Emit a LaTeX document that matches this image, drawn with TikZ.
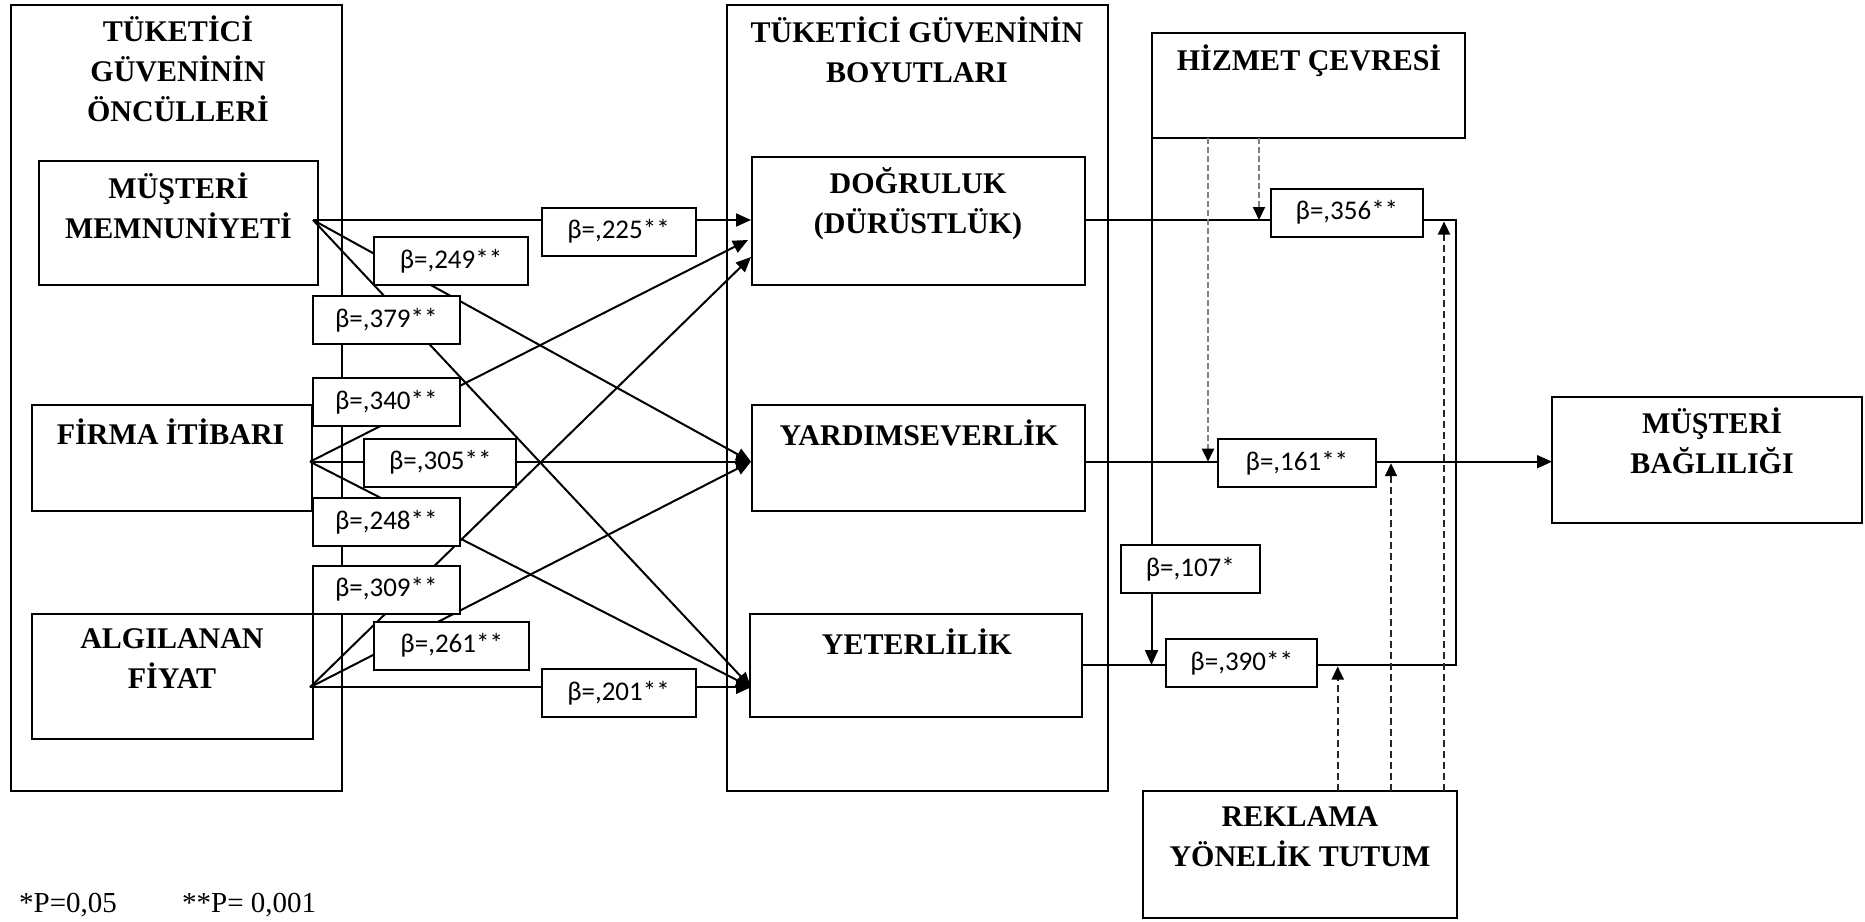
\documentclass[tikz,border=0pt]{standalone}
\usepackage{fontspec}
\setmainfont{Liberation Serif}
\newfontfamily\calib{Carlito}
\usetikzlibrary{arrows.meta,calc}
\begin{document}
\begin{tikzpicture}[x=1pt,y=-1pt,
  frame/.style={draw, line width=2pt, inner sep=0pt, outer sep=0pt},
  beta/.style={draw, fill=white, line width=2pt, inner sep=0pt, outer sep=0pt,
    minimum height=48pt, font=\calib\fontsize{27}{32}\selectfont},
  hd/.style={inner sep=0pt, align=center, font=\bfseries\fontsize{30}{40}\selectfont},
  foot/.style={inner sep=0pt, anchor=west, font=\fontsize{29}{34}\selectfont},
  conn/.style={line width=2pt},
  arr/.style={conn, -{Triangle[length=15pt,width=13pt]}},
  hdash/.style={line width=2pt, draw=black!50, dash pattern=on 6pt off 3pt,
    -{Triangle[length=13pt,width=12pt,color=black]}},
  rdash/.style={line width=2pt, draw=black!85, dash pattern=on 7pt off 4pt,
    -{Triangle[length=13pt,width=12pt,color=black]}},
]
\useasboundingbox (0,0) rectangle (1865,921);

% group frames
\node[frame, minimum width=331pt, minimum height=786pt] (lo) at (176.5,398) {};
\node[frame, minimum width=381pt, minimum height=786pt] (mo) at (917.5,398) {};
\node[hd] (loT) at (178,69) {TÜKETİCİ\\GÜVENİNİN\\ÖNCÜLLERİ};
\node[hd] (moT) at (917,49.5) {TÜKETİCİ GÜVENİNİN\\BOYUTLARI};

% antecedents
\node[frame, minimum width=278.5pt, minimum height=124.3pt] (mm) at (178.25,223.15) {};
\node[frame, minimum width=280.2pt, minimum height=106pt] (fi) at (171.6,458) {};
\node[frame, minimum width=281.5pt, minimum height=125pt] (af) at (172.25,676.8) {};
\node[hd] at (178.5,205.5) {MÜŞTERİ\\MEMNUNİYETİ};
\node[hd] at (170.6,431.7) {FİRMA İTİBARI};
\node[hd] at (172,658.2) {ALGILANAN\\FİYAT};

% trust dimensions
\node[frame, minimum width=333pt, minimum height=128.6pt] (dog) at (918.5,221) {};
\node[frame, minimum width=333pt, minimum height=106pt] (yar) at (918.5,458) {};
\node[frame, minimum width=332pt, minimum height=102.4pt] (yet) at (916,665.5) {};
\node[hd] at (918,203.3) {DOĞRULUK\\(DÜRÜSTLÜK)};
\node[hd] at (919,433) {YARDIMSEVERLİK};
\node[hd] at (917,642) {YETERLİLİK};

% moderators and outcome
\node[frame, minimum width=313.8pt, minimum height=104.7pt] (hiz) at (1308.4,85.65) {};
\node[frame, minimum width=310pt, minimum height=126pt] (mb) at (1707,460) {};
\node[frame, minimum width=314pt, minimum height=127.3pt] (rek) at (1300.3,854.65) {};
\node[hd] at (1309,61) {HİZMET ÇEVRESİ};
\node[hd] at (1712,441.2) {MÜŞTERİ\\BAĞLILIĞI};
\node[hd] at (1300,836.3) {REKLAMA\\YÖNELİK TUTUM};

% path end points
\coordinate (mmS) at (313,220);
\coordinate (fiS) at (310,461.7);
\coordinate (afS) at (310,687.3);
\coordinate (dA) at (751,220);
\coordinate (dB) at (748,240);
\coordinate (dC) at (751,257);
\coordinate (yA) at (751,461.7);
\coordinate (eA) at (751,687.3);

\draw[arr] (mmS) -- (dA);
\draw[arr] (mmS) -- (yA);
\draw[arr] (mmS) -- (eA);
\draw[arr] (fiS) -- (dB);
\draw[arr] (fiS) -- (yA);
\draw[arr] (fiS) -- (eA);
\draw[arr] (afS) -- (dC);
\draw[arr] (afS) -- (yA);
\draw[arr] (afS) -- (eA);

% path coefficients, left part
\node[beta, minimum width=154pt] (b225) at (618.5,231.7) {β=,225**};
\node[beta, minimum width=154pt] (b249) at (451,261.3) {β=,249**};
\node[beta, minimum width=146.5pt] (b379) at (386.3,320) {β=,379**};
\node[beta, minimum width=146.5pt] (b340) at (386.3,402) {β=,340**};
\node[beta, minimum width=151.7pt] (b305) at (440.3,462.7) {β=,305**};
\node[beta, minimum width=146.5pt] (b248) at (386.3,522) {β=,248**};
\node[beta, minimum width=146.5pt] (b309) at (386.3,589.7) {β=,309**};
\node[beta, minimum width=155.3pt] (b261) at (451.7,645.5) {β=,261**};
\node[beta, minimum width=154pt] (b201) at (618.5,693) {β=,201**};

% path coefficients, right part
\node[beta, minimum width=152pt] (b356) at (1346.9,212.5) {β=,356**};
\node[beta, minimum width=157.7pt] (b161) at (1296.9,462.9) {β=,161**};
\node[beta, minimum width=139.5pt] (b107) at (1190.3,569.2) {β=,107*};
\node[beta, minimum width=151.3pt] (b390) at (1241.7,663.3) {β=,390**};

\coordinate (dogO) at (1085,220);
\coordinate (yarO) at (1085,461.7);
\coordinate (yetO) at (1082,665);
\coordinate (brk) at (1455.5,220);

\draw[conn] (dogO) -- (dogO -| b356.west);
\draw[conn] (yarO) -- (yarO -| b161.west);
\draw[conn] (yetO) -- (yetO -| b390.west);
\draw[conn] (dogO -| b356.east) -- (brk) -- (brk |- yetO) -- (yetO -| b390.east);
\draw[arr] (yarO -| b161.east) -- (yarO -| mb.west);

% moderator links
\draw[conn] (hiz.south west) -- (hiz.south west |- b107.north);
\draw[arr] (hiz.south west |- b107.south) -- (hiz.south west |- yetO);

\coordinate (c1) at (1208,0);
\coordinate (c2) at (1259,0);
\coordinate (c3) at (1337.7,0);
\coordinate (c4) at (1391,0);
\coordinate (c5) at (1444,0);
\draw[hdash] (hiz.south -| c1) -- (c1 |- yarO);
\draw[hdash] (hiz.south -| c2) -- (c2 |- dogO);
\draw[rdash] (rek.north -| c3) -- ($(c3 |- yetO)+(0,1.5)$);
\draw[rdash] (rek.north -| c4) -- ($(c4 |- yarO)+(0,1.5)$);
\draw[rdash] (rek.north -| c5) -- ($(c5 |- dogO)+(0,1.5)$);

% significance note
\node[foot] (n1) at (19,905) {*P=0,05};
\node[foot] (n2) at (182,905) {**P= 0,001};
\end{tikzpicture}
\end{document}
